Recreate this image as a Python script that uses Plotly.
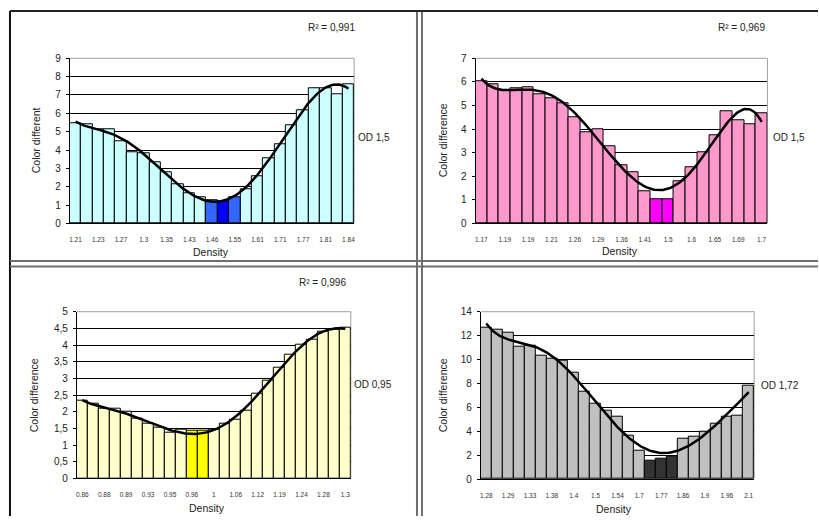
import numpy as np
import plotly.graph_objects as go

# ---------------- data ----------------
p1_labels = ["1.21", "1.23", "1.27", "1.3", "1.35", "1.43", "1.46", "1.55", "1.61", "1.71", "1.77", "1.81", "1.84"]
p1_values = [5.45, 5.4, 5.15, 5.15, 4.5, 3.9, 3.8, 3.35, 2.8, 2.15, 1.65, 1.4, 1.27, 1.2, 1.43,
             1.87, 2.55, 3.55, 4.3, 5.35, 6.15, 7.35, 7.35, 7.05, 7.6]
p1_highlight = {12: "#3366FF", 13: "#0000FF", 14: "#3366FF"}

p2_labels = ["1.17", "1.19", "1.19", "1.21", "1.26", "1.29", "1.36", "1.41", "1.5", "1.6", "1.65", "1.69", "1.7"]
p2_values = [6.03, 5.9, 5.63, 5.73, 5.77, 5.48, 5.31, 5.1, 4.51, 3.88, 3.99, 3.25, 2.47, 2.15, 1.36,
             1.01, 1.01, 1.78, 2.4, 3.0, 3.72, 4.76, 4.38, 4.2, 4.69]
p2_highlight = {15: "#FF00FF", 16: "#FF00FF"}

p3_labels = ["0.86", "0.88", "0.89", "0.93", "0.95", "0.96", "1", "1.06", "1.12", "1.19", "1.24", "1.28", "1.3"]
p3_values = [2.33, 2.24, 2.09, 2.09, 1.99, 1.79, 1.65, 1.52, 1.38, 1.45, 1.42, 1.42, 1.45, 1.65, 1.75,
             2.02, 2.53, 2.92, 3.31, 3.7, 4.02, 4.17, 4.39, 4.47, 4.52]
p3_highlight = {10: "#FFFF00", 11: "#FFFF00"}

p4_labels = ["1.28", "1.29", "1.33", "1.38", "1.4", "1.5", "1.54", "1.7", "1.77", "1.86", "1.9", "1.96", "2.1"]
p4_values = [12.66, 12.5, 12.25, 11.07, 11.16, 10.34, 10.04, 9.9, 8.89, 7.3, 6.34, 5.69, 5.2, 3.61, 2.38,
             1.5, 1.72, 1.83, 3.36, 3.58, 3.96, 4.65, 5.25, 5.33, 7.85]
p4_highlight = {15: "#333333", 16: "#333333", 17: "#333333"}

r2_texts = ["R² = 0,991", "R² = 0,969", "R² = 0,996", None]
od_texts = ["OD 1,5", "OD 1,5", "OD 0,95", "OD 1,72"]
ytitles = ["Color different", "Color difference", "Color difference", "Color difference"]

# ---------------- layout geometry (pixels) ----------------
W, H = 819, 521
panels = [
    dict(vals=p1_values, labels=p1_labels, hl=p1_highlight, base="#CCFFFF", ymax=9, dtick=1,
         x0=69, x1=354, yt=54.3, yb=222.7, deg=6),
    dict(vals=p2_values, labels=p2_labels, hl=p2_highlight, base="#FF99CC", ymax=7, dtick=1,
         x0=475.7, x1=768.3, yt=54.3, yb=222.7, deg=6),
    dict(vals=p3_values, labels=p3_labels, hl=p3_highlight, base="#FFFFCC", ymax=5, dtick=0.5,
         x0=76, x1=350.7, yt=312.7, yb=482.7, deg=6),
    dict(vals=p4_values, labels=p4_labels, hl=p4_highlight, base="#C0C0C0", ymax=14, dtick=2,
         x0=481, x1=755, yt=312.7, yb=483.3, deg=6),
]
ytitle_pos = [(35, 138), (443, 138), (33, 398), (443, 398)]
dens_pos = [(211, 252), (621, 251), (207, 512.5), (614, 513.5)]
r2_pos = [(357, 23), (768, 23), (348, 283), None]
od_pos = [(356, 135), (772, 135), (352, 387), (760, 388)]

def px(x):
    return x / W

def py(y):
    return 1 - y / H

FONT = "Liberation Sans, Arial"
fig = go.Figure()
annotations = []
shapes = []

for i, p in enumerate(panels):
    n = len(p["vals"])
    idx = np.arange(n)
    colors = [p["hl"].get(k, p["base"]) for k in range(n)]
    xa = "x" if i == 0 else f"x{i+1}"
    ya = "y" if i == 0 else f"y{i+1}"
    fig.add_trace(go.Bar(x=idx, y=p["vals"], marker=dict(color=colors, line=dict(color="black", width=1)),
                         xaxis=xa, yaxis=ya, showlegend=False, width=1.0))
    coef = np.polyfit(idx, p["vals"], p["deg"])
    xs = np.linspace(0, n - 1, 200)
    fig.add_trace(go.Scatter(x=xs, y=np.polyval(coef, xs), mode="lines",
                             line=dict(color="black", width=2.5), xaxis=xa, yaxis=ya, showlegend=False))
    sfx = "" if i == 0 else str(i + 1)
    fig.update_layout({
        f"xaxis{sfx}": dict(domain=[px(p["x0"]), px(p["x1"])], anchor=ya, range=[-0.5, n - 0.5],
                            tickvals=list(range(0, n, 2)), ticktext=p["labels"], showgrid=False,
                            showline=True, linecolor="black", linewidth=1, zeroline=False,
                            tickfont=dict(size=6.5, color="#333333", family=FONT),
                            ticks="", ticklabelstandoff=10, fixedrange=True),
        f"yaxis{sfx}": dict(domain=[py(p["yb"]), py(p["yt"])], anchor=xa, range=[0, p["ymax"]],
                            dtick=p["dtick"], showgrid=True, gridcolor="black", gridwidth=1,
                            showline=True, linecolor="black", linewidth=1, zeroline=False,
                            ticks="outside", ticklen=3, tickcolor="black",
                            tickfont=dict(size=10, color="#222222", family=FONT),
                            ticklabelstandoff=3, fixedrange=True),
    })
    # top / right plot border in gray
    shapes.append(dict(type="line", xref=f"{xa} domain", yref=f"{ya} domain", x0=0, x1=1, y0=1, y1=1,
                       line=dict(color="#A0A0A0", width=1)))
    shapes.append(dict(type="line", xref=f"{xa} domain", yref=f"{ya} domain", x0=1, x1=1, y0=0, y1=1,
                       line=dict(color="#A0A0A0", width=1), layer="below"))
    tx, ty = ytitle_pos[i]
    annotations.append(dict(x=px(tx), y=py(ty), xref="paper", yref="paper", text=ytitles[i], textangle=-90,
                            xanchor="center", yanchor="middle", showarrow=False,
                            font=dict(size=10.5, color="#222222", family=FONT)))
    dx, dy = dens_pos[i]
    annotations.append(dict(x=px(dx), y=py(dy), xref="paper", yref="paper", text="Density",
                            xanchor="center", yanchor="middle", showarrow=False,
                            font=dict(size=10.5, color="#222222", family=FONT)))
    if r2_texts[i]:
        rx, ry = r2_pos[i]
        annotations.append(dict(x=px(rx), y=py(ry), xref="paper", yref="paper", text=r2_texts[i],
                                xanchor="right", yanchor="middle", showarrow=False,
                                font=dict(size=10, color="#222222", family=FONT)))
    ox, oy = od_pos[i]
    annotations.append(dict(x=px(ox), y=py(oy), xref="paper", yref="paper", text=od_texts[i],
                            xanchor="left", yanchor="middle", showarrow=False,
                            font=dict(size=10, color="#222222", family=FONT)))

# frame lines between panels
frame_col = "#6E6E6E"
shapes.append(dict(type="line", xref="paper", yref="paper", x0=px(9), x1=px(9), y0=0, y1=py(6),
                   line=dict(color="#111111", width=2)))
for x in [417, 422]:
    shapes.append(dict(type="line", xref="paper", yref="paper", x0=px(x), x1=px(x), y0=0, y1=py(6),
                       line=dict(color=frame_col, width=2)))
shapes.append(dict(type="line", xref="paper", yref="paper", x0=px(9), x1=1, y0=py(6), y1=py(6),
                   line=dict(color="#222222", width=2)))
for y in [261, 266.5]:
    shapes.append(dict(type="line", xref="paper", yref="paper", x0=px(9), x1=1, y0=py(y), y1=py(y),
                       line=dict(color=frame_col, width=2)))

fig.update_layout(width=W, height=H, margin=dict(l=0, r=0, t=0, b=0), paper_bgcolor="white",
                  plot_bgcolor="white", bargap=0, separators=",.", annotations=annotations, shapes=shapes,
                  font=dict(family=FONT))
fig.write_html("out.html", config={"displayModeBar": False},
               post_script="document.body.style.margin='0';document.body.style.overflow='hidden';")
